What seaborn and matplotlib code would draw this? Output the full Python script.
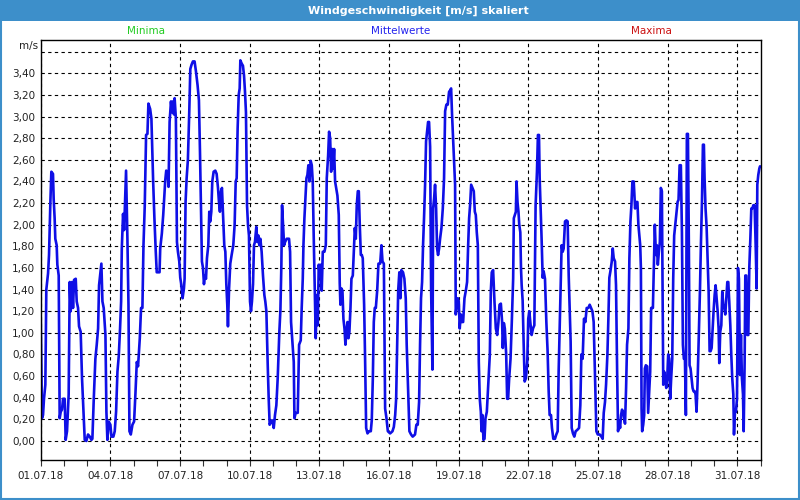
import matplotlib
matplotlib.use("Agg")
import matplotlib.pyplot as plt
import matplotlib.dates as mdates
from matplotlib.patches import Rectangle
import numpy as np
import pandas as pd
import seaborn as sns

# ---- data: (hours since 01.07.2018 00:00, wind speed m/s) ----
seg1 = [(0,1.15),(0.7,0.69),(1.3,0.21),(2.4,0.24),(3.4,0.39),(4.8,0.52),(5.8,1.40),(7.6,1.55),(8.6,1.72),(10,2.21),(11,2.49),(12.7,2.47),(13.4,2.24),(14.4,2.06),(15.1,1.87),(16.5,1.81),(17.2,1.63),(18.6,1.53),(19.6,0.21),(20.7,0.27),(22,0.29),(23.1,0.39),(24.8,0.39),(25.8,0.01),(27.2,0.09),(28.9,0.43),(30,1.47),(31,1.20),(32.4,1.47),(33.4,1.23),(34.5,1.49),(36.2,1.50),(37.2,1.29),(38.6,1.23),(39.6,1.06),(41.3,1.01),(42.7,0.58),(44.1,0.30),(45.5,0.01),(47.2,0.00),(48.9,0.06),(50.7,0.04),(52.4,0.01),(53.4,0.02),(54.8,0.38),(56.5,0.76),(57.9,0.89),(59.3,1.04),(60.3,1.44),(61.7,1.56),(62.7,1.64),(63.8,1.29),(65.1,1.23),(66.9,0.98),(67.9,0.27),(68.9,0.01),(70.3,0.18),(72,0.15),(73.1,0.04),(75.1,0.04),(76.5,0.09),(77.9,0.27),(79.3,0.64),(80.7,0.79),(82,1.04),(83.1,1.29),(83.8,1.78),(85.1,2.10),(86.2,1.95),(87.2,2.23),(88.2,2.50),(89.6,1.87),(90.7,1.26),(91.7,0.09),(93.1,0.06),(94.8,0.15),(96.5,0.18),(97.9,0.44),(99.3,0.73),(100.6,0.69),(102.4,0.95),(103.7,1.23),(105.1,1.23),(106.2,1.81),(107.5,2.17),(108.9,2.83),(110.3,2.84),(111.3,3.12),(113.1,3.07),(114.4,2.98),(116.2,2.40),(117.5,2.06),(118.9,1.75),(119.9,1.56)]
seg2 = [(122.8,1.56),(123.5,1.78),(125.2,1.92),(126.6,2.09),(127.7,2.26),(128.7,2.41),(129.7,2.50),(131.1,2.49),(132.1,2.35),(133.2,2.95),(134.6,3.14),(135.6,3.04),(136.6,3.14),(137.7,3.02),(138.4,3.17),(139.7,2.98),(140.8,1.84),(141.8,1.75),(143.2,1.66),(144.2,1.51),(145.2,1.45),(146.6,1.32),(148,1.41),(148.7,1.50),(149.7,2.21),(150.8,2.43),(152.1,2.60),(153.5,3.04),(154.6,3.44),(155.9,3.48),(157.3,3.51),(159,3.51),(160.4,3.42),(162.1,3.29),(163.5,3.15),(164.6,2.67),(165.6,2.15),(166.6,1.66),(167.7,1.60),(168.7,1.45),(169.7,1.53),(170.8,1.50),(171.8,1.69),(173.2,1.81),(174.2,2.12),(175.2,2.03),(176.3,2.12),(177.3,2.40),(178.7,2.49),(180.4,2.50),(181.8,2.47),(183.2,2.34),(184.2,2.21),(185.2,2.12),(186.3,2.31),(187.3,2.34),(188.3,2.12),(189.7,1.81),(190.8,1.75),(191.8,1.45),(192.8,1.26),(193.5,1.06),(194.6,1.40),(195.9,1.64),(197.3,1.72),(199,1.81),(200.4,2.00),(201.5,2.40),(202.5,2.43),(203.5,2.89),(204.6,3.20),(205.6,3.26),(206.3,3.52),(207.7,3.49),(209,3.47),(210.1,3.38),(211.1,3.23),(212.1,3.04),(213.2,2.18),(214.2,2.00),(215.2,1.90),(216.3,1.29),(217.3,1.20),(218.3,1.29),(219.4,1.45),(220.4,1.81),(221.4,1.84),(222.8,1.98),(223.9,1.84),(224.9,1.90),(225.9,1.81),(227,1.87),(228.3,1.75),(229.7,1.53),(231.1,1.35),(232.1,1.29),(233.2,1.20),(234.6,0.70),(235.6,0.39),(236.6,0.15),(238,0.18),(239.4,0.19),(240.8,0.12),(242.1,0.24),(243.5,0.33),(244.9,0.58)]
seg3 = [(246.6,1.01),(247.7,1.21),(248.7,1.63),(249.4,2.18),(250.4,2.00),(251.5,1.81),(252.5,1.84),(254.2,1.87),(256.6,1.87),(257.7,1.75),(258.7,1.10),(260.1,0.92),(261.5,0.73),(262.2,0.21),(263.5,0.26),(265.6,0.26),(267,0.89),(268.7,0.93),(269.7,1.23),(270.8,1.50),(271.5,1.81),(272.5,2.06),(273.5,2.24),(274.6,2.43),(275.6,2.46),(276.6,2.55),(277.7,2.40),(279,2.59),(280.1,2.55),(281.1,2.40),(282.1,1.90),(283.2,1.41),(284.2,0.95),(285.3,1.35),(286.3,1.07),(287.3,1.63),(288.4,1.53),(289.4,1.63),(290.4,1.39),(291.5,1.75),(293.2,1.75),(294.6,1.81),(295.6,2.43),(297,2.64),(298,2.86),(299.1,2.80),(300.1,2.49),(301.1,2.70),(302.1,2.52),(303.2,2.70),(304.2,2.40),(305.3,2.34),(306.6,2.27),(308,2.09),(309,1.46),(309.7,1.26),(310.8,1.41),(311.8,1.39),(312.8,1.13),(313.9,1.04),(314.9,0.89),(315.9,1.01),(317,1.10),(318,0.95),(319,1.01),(320.1,1.23),(321.1,1.50),(322.5,1.53),(323.5,1.75),(324.6,1.97),(325.6,1.87),(326.6,2.18),(327.7,2.31),(328.7,2.31),(329.7,2.00),(330.8,1.72),(331.8,1.72),(332.8,1.69),(334.2,1.26),(335.2,0.76),(336.3,0.12),(337.7,0.07),(339.4,0.09),(341.1,0.09),(342.1,0.19),(343.2,0.58),(344.2,1.10),(345.2,1.23),(346.3,1.23),(347.7,1.39),(349,1.64),(350.8,1.64),(352.1,1.81),(353.2,1.66),(354.6,1.64),(355.9,0.30),(357.3,0.21),(358.7,0.09),(361.1,0.07),(363.5,0.09),(364.9,0.13),(366.3,0.24),(367.3,0.39),(368.3,0.89),(369.4,1.39)]
seg4 = [(370.6,1.56),(371.7,1.32),(372.7,1.58),(374.4,1.56),(375.8,1.50),(377.2,1.32),(378.2,0.89),(379.6,0.49),(381,0.09),(382.7,0.06),(384.4,0.04),(386.8,0.06),(388.2,0.15),(389.6,0.15),(391,0.36),(392,0.89),(393,1.32),(394.1,1.47),(395.1,1.81),(396.1,2.06),(397.2,2.37),(398.2,2.77),(399.3,2.86),(400.3,2.95),(401.3,2.95),(402.4,2.72),(403.4,1.41),(404.1,1.04),(404.8,0.66),(405.5,2.15),(406.5,2.24),(407.5,2.37),(408.6,2.15),(409.6,1.78),(410.6,1.72),(411.7,1.78),(412.7,1.87),(414.1,1.97),(415.5,2.15),(416.8,2.43),(417.9,3.05),(419.2,3.11),(420.6,3.11),(422,3.23),(423,3.24),(424.1,3.26),(425.1,3.01),(426.1,2.80),(427.2,2.58),(428.2,2.37),(428.9,1.17),(429.9,1.26),(431,1.32),(432,1.29),(433,1.04),(434.1,1.17),(435.1,1.10),(436.5,1.10),(437.9,1.32),(439.3,1.39),(440.6,1.47),(441.7,1.81),(442.7,2.06),(443.7,2.18),(444.8,2.37),(446.1,2.34),(447.5,2.31),(448.6,2.12),(449.6,2.09),(450.6,1.93),(451.7,1.81),(452.7,0.73),(453.7,0.39),(454.8,0.27),(455.5,0.09),(456.5,0.24),(457.5,0.01),(458.6,0.02),(459.6,0.21),(461,0.27),(462,0.44),(463,0.61),(464.1,0.80),(465.1,1.38),(466.1,1.56),(467.5,1.58),(468.9,1.29),(470.3,1.04),(471.7,0.98),(473,1.10),(474.1,1.26),(475.5,1.27),(476.8,1.10),(477.5,0.86),(478.6,1.09),(479.6,1.04),(481,0.80),(482,0.39),(483,0.39),(484.1,0.58),(485.5,0.76),(486.8,1.10),(488.2,1.50),(488.9,2.06),(489.9,2.09),(491,2.12),(491.7,2.40),(492.7,2.21),(493.7,2.12)]
seg5 = [(494.5,2.00),(495.6,1.93),(496.3,1.60),(497,1.44),(498,1.30),(499,0.92),(500.1,0.55),(501.4,0.58),(502.8,0.73),(503.8,1.13),(504.9,1.20),(505.9,1.10),(507.3,0.98),(508.7,1.04),(510.1,1.07),(511.4,2.18),(512.8,2.49),(513.8,2.83),(514.9,2.83),(515.6,2.43),(516.6,2.15),(517.6,1.87),(518.7,1.51),(519.7,1.57),(521.1,1.50),(522.5,1.10),(523.8,0.83),(524.9,0.46),(525.9,0.24),(527.3,0.24),(528.3,0.12),(529.7,0.02),(531.4,0.02),(532.8,0.06),(534.2,0.09),(535.2,0.64),(536.3,1.07),(537.3,1.50),(538.3,1.81),(539.4,1.75),(540.4,1.78),(541.8,2.03),(543.2,2.04),(544.5,2.03),(545.6,1.53),(546.6,1.23),(547.6,0.92),(548.7,0.12),(550,0.07),(551.4,0.04),(552.8,0.09),(554.2,0.10),(556.3,0.12),(557.6,0.33),(558.7,0.80),(560,0.76),(561.4,1.13),(562.8,1.10),(564.2,1.23),(565.9,1.23),(567.3,1.26),(568.7,1.23),(570.1,1.20),(571.4,1.10),(572.8,0.61),(574.2,0.09),(575.6,0.06),(577.6,0.06),(579.4,0.04),(580.7,0.02),(581.8,0.26),(583.1,0.36),(584.2,0.52),(585.6,0.80),(586.6,1.13),(587.6,1.51),(588.7,1.57),(590.1,1.66),(591.1,1.78),(592.1,1.69),(593.5,1.66),(594.5,1.44),(595.6,0.67),(596.6,0.09),(597.6,0.19),(598.7,0.12),(599.7,0.24),(600.7,0.29),(601.8,0.27),(602.8,0.21),(603.8,0.16),(604.9,0.49),(605.9,0.89),(607.3,1.04),(608.3,1.69),(609.4,2.03),(610.4,2.18),(611.4,2.40),(612.8,2.40),(614.2,2.15),(615.2,2.21),(616.6,2.21),(617.6,2.00)]
seg6 = [(619.5,1.81),(620.2,1.60),(620.9,0.30),(621.5,0.09),(622.6,0.15),(623.6,0.24),(624.3,0.67),(625.3,0.70),(626.7,0.69),(627.7,0.26),(628.8,0.46),(629.8,0.64),(630.8,1.23),(632.6,1.23),(633.6,1.63),(634.6,2.00),(635.7,1.72),(636.7,1.81),(637.7,1.63),(638.8,1.75),(639.8,1.84),(640.8,2.34),(641.9,2.31),(642.6,1.41),(643.3,0.52),(644.3,0.64),(645.3,0.58),(646.4,0.49),(647.4,0.58),(648.4,0.80),(649.5,0.76),(650.5,0.39),(651.5,0.58),(652.6,0.76),(653.6,1.50),(654.6,1.90),(655.7,2.00),(656.7,2.09),(658.1,2.21),(659.1,2.23),(660.2,2.55),(661.5,2.55),(662.6,1.93),(663.6,0.89),(664.6,0.76),(665.7,0.76),(666.7,0.24),(667.7,2.84),(668.8,2.84),(669.8,1.78),(670.5,0.70),(671.5,0.67),(672.6,0.58),(673.6,0.49),(674.6,0.46),(675.7,0.46),(676.7,0.43),(677.7,0.27),(678.8,0.55),(680.2,1.04),(681.2,1.38),(682.2,1.81),(683.3,2.21),(684.3,2.74),(685.3,2.74),(686,2.43),(687,2.15),(688.1,1.98),(689.1,1.69),(690.2,1.38),(691.2,0.83),(692.2,0.83),(693.3,0.86),(694.3,1.04),(695.3,1.20),(696.4,1.35),(697.4,1.44),(698.4,1.32),(699.5,1.20),(700.5,1.04),(701.2,0.72),(702.2,1.01),(703.3,1.07),(704.3,1.38),(705.3,1.26),(706.4,1.23),(707.4,1.17),(708.4,1.32),(709.5,1.47),(710.5,1.47),(711.5,1.29),(712.6,1.07),(713.6,0.80),(714.6,0.58),(715.7,0.43),(716.4,0.06),(717.4,0.27),(718.4,0.27),(719.5,0.39),(720.5,1.60),(721.5,1.50),(722.6,0.61),(723.6,0.98),(724.6,0.58),(725.7,0.43),(726.4,0.09),(727.4,0.73),(728.1,1.53),(729.1,1.53),(730.2,0.98),(731.2,0.98),(732.2,1.60),(733.3,1.87),(734.3,2.15),(735.3,2.15),(736.4,2.18),(737.7,2.18),(738.8,1.81),(739.8,1.41),(740.5,2.37),(741.5,2.46),(742.6,2.52),(743.3,2.54)]

start_date = "2018-07-01"
label_days = list(range(1, 32, 3))                 # 01.07 .. 31.07 every 3 days
y_ticks = [round(0.2 * i, 2) for i in range(19)]   # 0.00 .. 3.60
title = "Windgeschwindigkeit [m/s] skaliert"
legend_items = [("Minima", "#22cc22"), ("Mittelwerte", "#2222ee"), ("Maxima", "#cc1111")]
unit = "m/s"

# ---- build frame ----
readings = seg1 + seg2 + seg3 + seg4 + seg5 + seg6
hours = np.array([r[0] for r in readings])
speed = np.array([r[1] for r in readings])
t0 = pd.Timestamp(start_date)
df = pd.DataFrame({
    "time": t0 + pd.to_timedelta(hours, unit="h"),
    "speed": speed,
})

sns.set_style("white")
plt.rcParams["font.family"] = ["DejaVu Sans"]

W, H = 800, 500
fig = plt.figure(figsize=(W / 100, H / 100), dpi=100)
fig.patch.set_facecolor("white")

blue = "#3d8fca"
fig.patches.append(Rectangle((0, 1 - 21 / H), 1, 21 / H, transform=fig.transFigure,
                             facecolor=blue, edgecolor="none", zorder=0))
fig.patches.append(Rectangle((1 / W, 1 / H), 1 - 2 / W, 1 - 2 / H, transform=fig.transFigure,
                             facecolor="none", edgecolor=blue, linewidth=1.5, zorder=0))
fig.text(418 / W, 1 - 10.5 / H, title, ha="center", va="center", color="white",
         fontsize=8, fontweight="bold")
for (lab, col), xc in zip(legend_items, [146, 401, 651]):
    fig.text(xc / W, 1 - 31 / H, lab, ha="center", va="center", color=col, fontsize=7.5)
fig.text(28.5 / W, 1 - 46 / H, unit, ha="center", va="center", color="#222222", fontsize=7.5)

ax = fig.add_axes([40.7 / W, 40 / H, 720 / W, 420 / H])
sns.lineplot(data=df, x="time", y="speed", ax=ax, color="#0f0fe6", linewidth=1.9,
             sort=False, estimator=None)

ax.set_xlim(t0, t0 + pd.Timedelta(days=31))
ax.set_ylim(-0.176, 3.708)

ax.set_yticks(y_ticks)
ax.set_yticklabels([("%.2f" % v).replace(".", ",") if v < 3.5 else "" for v in y_ticks])
major_dates = [t0 + pd.Timedelta(days=d - 1) for d in label_days]
ax.set_xticks(major_dates)
ax.set_xticklabels([d.strftime("%d.%m.%y") for d in major_dates])
ax.xaxis.set_minor_locator(mdates.DayLocator())

ax.tick_params(axis="y", length=0, pad=4, labelsize=7.5, labelcolor="#222222")
ax.tick_params(axis="x", which="both", direction="out", length=4, width=0.8,
               color="#333333", pad=4, labelsize=7.5, labelcolor="#222222", bottom=True)
ax.set_xlabel("")
ax.set_ylabel("")

ax.grid(True, which="major", axis="both", color="black", linestyle=(0, (3, 3)), linewidth=0.8)
ax.set_axisbelow(True)
for s in ax.spines.values():
    s.set_visible(True)
    s.set_color("black")
    s.set_linewidth(1.0)

fig.savefig("out.png", dpi=100, facecolor=fig.get_facecolor())
